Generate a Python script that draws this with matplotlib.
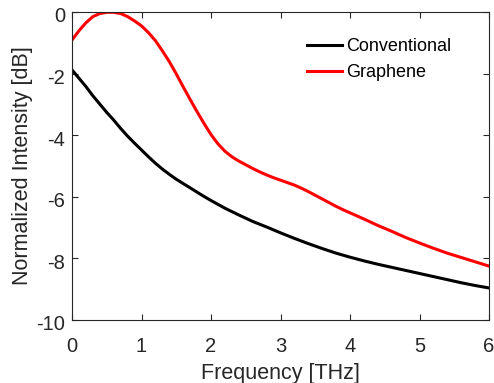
import matplotlib
matplotlib.use("Agg")
import matplotlib.pyplot as plt
from matplotlib.transforms import ScaledTranslation

plt.rcParams['font.family'] = ['Liberation Sans', 'DejaVu Sans']
plt.rcParams['axes.unicode_minus'] = False

freq_conv = [0, 0.1, 0.2, 0.3, 0.4, 0.5, 0.6, 0.7, 0.8, 0.9, 1.0, 1.1, 1.2, 1.3, 1.4,
             1.5, 1.6, 1.7, 1.8, 1.9, 2.0, 2.2, 2.4, 2.6, 2.8, 3.0, 3.2, 3.4, 3.6,
             3.8, 4.0, 4.2, 4.4, 4.6, 4.8, 5.0, 5.2, 5.4, 5.6, 5.8, 6.0]
conventional = [-1.88, -2.15, -2.42, -2.72, -2.99, -3.26, -3.51, -3.78, -4.03, -4.26,
                -4.48, -4.70, -4.91, -5.10, -5.27, -5.43, -5.57, -5.71, -5.85, -5.99,
                -6.12, -6.37, -6.59, -6.80, -6.98, -7.17, -7.35, -7.52, -7.68, -7.83,
                -7.96, -8.08, -8.19, -8.29, -8.39, -8.49, -8.59, -8.69, -8.79, -8.88,
                -8.96]

freq_gr = [0, 0.1, 0.2, 0.3, 0.4, 0.5, 0.6, 0.7, 0.8, 0.9, 1.0, 1.1, 1.2, 1.3, 1.4,
           1.5, 1.6, 1.7, 1.8, 1.9, 2.0, 2.1, 2.2, 2.3, 2.4, 2.5, 2.6, 2.7, 2.8,
           2.9, 3.0, 3.1, 3.2, 3.3, 3.4, 3.5, 3.6, 3.7, 3.8, 3.9, 4.0, 4.2, 4.4,
           4.6, 4.8, 5.0, 5.2, 5.4, 5.6, 5.8, 6.0]
graphene = [-0.91, -0.61, -0.35, -0.15, -0.05, -0.01, -0.01, -0.05, -0.15, -0.29,
            -0.45, -0.67, -0.93, -1.26, -1.61, -2.01, -2.43, -2.84, -3.24, -3.62,
            -3.98, -4.28, -4.52, -4.70, -4.84, -4.96, -5.08, -5.19, -5.29, -5.38,
            -5.46, -5.54, -5.62, -5.72, -5.83, -5.95, -6.07, -6.19, -6.31, -6.42,
            -6.52, -6.72, -6.93, -7.12, -7.32, -7.50, -7.67, -7.83, -7.97, -8.11,
            -8.25]

xticks = [0, 1, 2, 3, 4, 5, 6]
yticks = [-10, -8, -6, -4, -2, 0]

ink = '#262626'
fig = plt.figure(figsize=(4.94, 3.83), dpi=100)
ax = fig.add_axes([72/494, 1-320/383, (489-72)/494, (320-12)/383])

ax.plot(freq_conv, conventional, color='black', lw=2.2, label='Conventional')
ax.plot(freq_gr, graphene, color='#ff0000', lw=2.2, label='Graphene')

ax.set_xlim(0, 6)
ax.set_ylim(-10, 0)
ax.set_xticks(xticks)
ax.set_yticks(yticks)
ax.tick_params(direction='in', length=4, width=0.8, colors=ink, labelsize=14.5,
               top=True, right=True, labeltop=False, labelright=False)
ax.tick_params(axis='x', pad=12)
ax.tick_params(axis='y', pad=5)
for s in ax.spines.values():
    s.set_color(ink)
    s.set_linewidth(0.8)

off = ScaledTranslation(0, -3/100, fig.dpi_scale_trans)
for lab in ax.get_yticklabels():
    lab.set_transform(lab.get_transform() + off)

ax.set_xlabel('Frequency [THz]', fontsize=15.5, color=ink, labelpad=5)
ax.set_ylabel('Normalized Intensity [dB]', fontsize=15.5, color=ink, labelpad=2.5)

leg = ax.legend(loc='upper left', bbox_to_anchor=(307/494, 1-38/383),
                bbox_transform=fig.transFigure, frameon=False, fontsize=13,
                handlelength=1.95, handletextpad=0.2, labelspacing=0.52,
                borderpad=0, borderaxespad=0)
for t in leg.get_texts():
    t.set_color('black')

fig.savefig('out.png', dpi=100)
